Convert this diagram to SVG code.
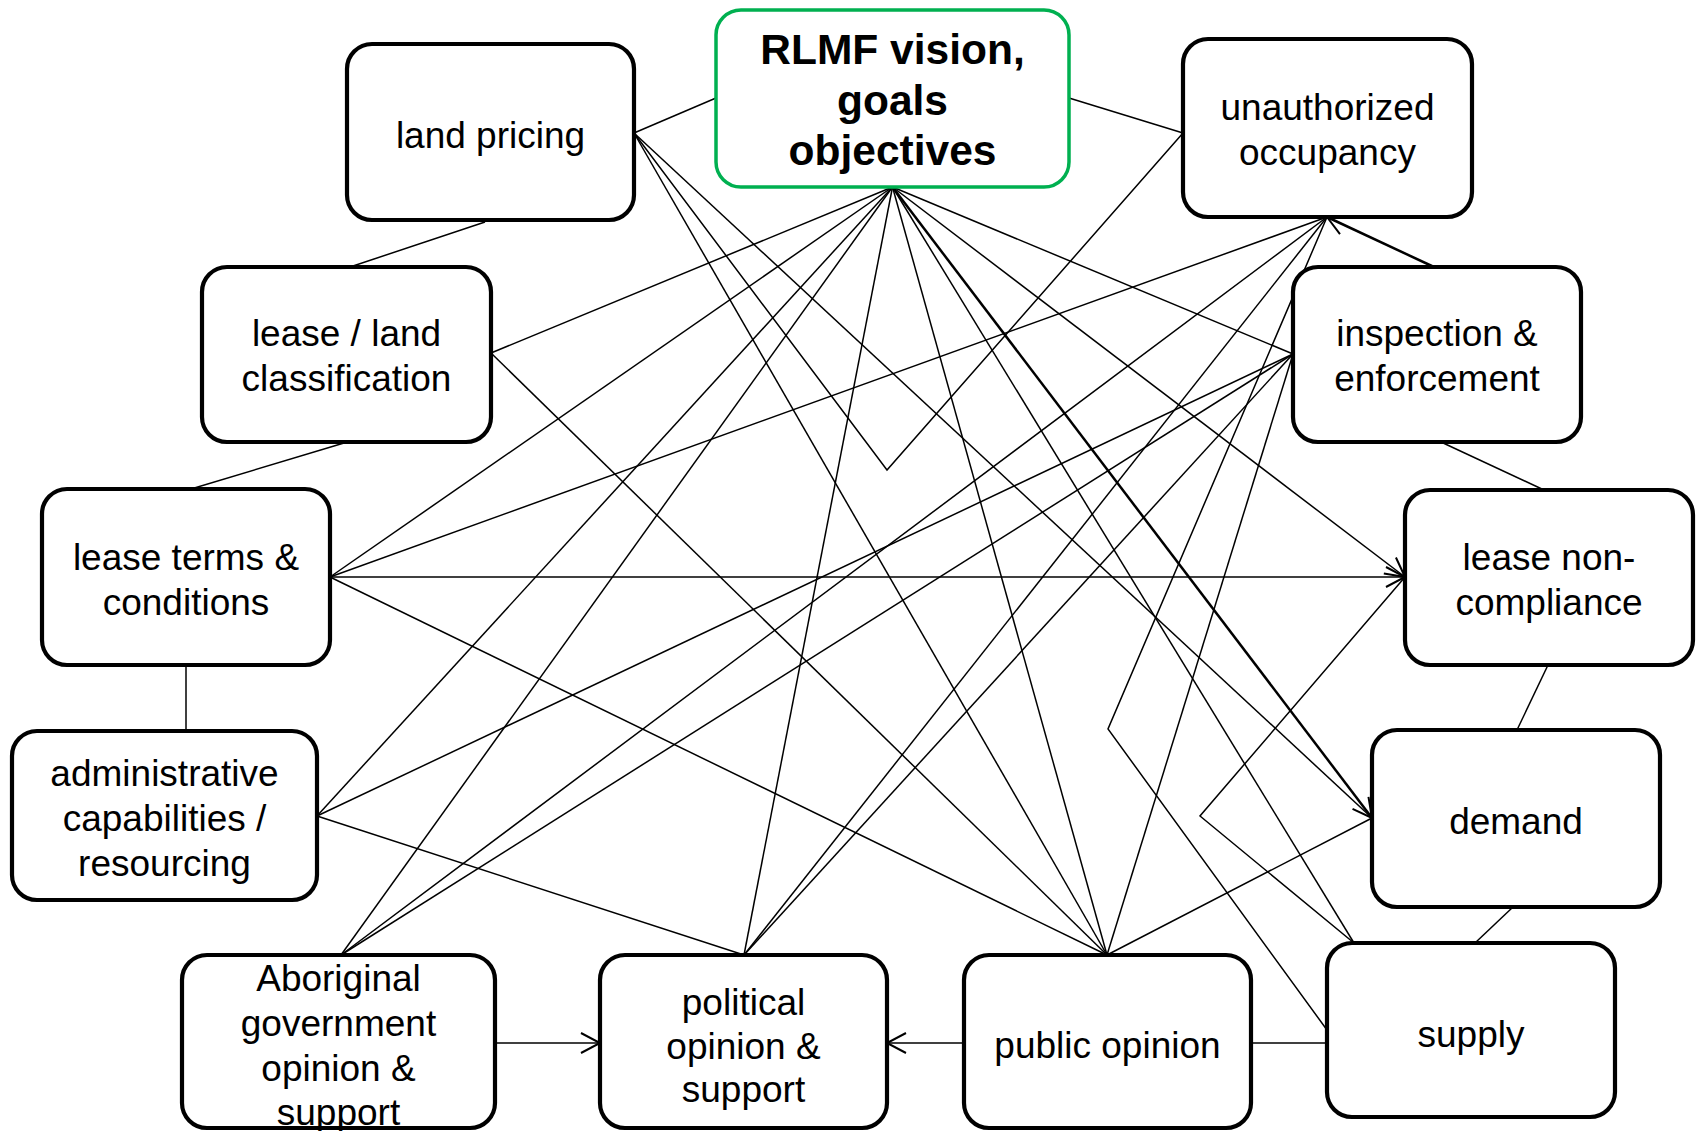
<svg xmlns="http://www.w3.org/2000/svg" width="1700" height="1131" viewBox="0 0 1700 1131">
<defs>
<style>
.box{fill:#fff;stroke:#000;stroke-width:4.2}
.vision{fill:#fff;stroke:#00B050;stroke-width:3.5}
.t{font-family:"Liberation Sans",Arial,sans-serif;font-size:37px;fill:#000;text-anchor:middle}
.b{font-family:"Liberation Sans",Arial,sans-serif;font-size:42.5px;font-weight:bold;fill:#000;text-anchor:middle}
.c line,.c polyline{stroke:#000;stroke-width:1.5;fill:none}
.c .thick{stroke-width:2.5}
</style>
<marker id="arr" markerUnits="userSpaceOnUse" markerWidth="40" markerHeight="40" viewBox="-30 -20 40 40" refX="0" refY="0" orient="auto" overflow="visible">
<path d="M-19,-10 L0,0 L-19,10" fill="none" stroke="#000" stroke-width="2"/>
</marker>
</defs>
<rect width="1700" height="1131" fill="#fff"/>
<g id="connectors" class="c">
<line x1="634" y1="133" x2="716" y2="98"/>
<line x1="1069" y1="98" x2="1183" y2="133"/>
<line x1="485" y1="222" x2="350" y2="267"/>
<line x1="344" y1="443" x2="191" y2="489"/>
<line x1="186" y1="665" x2="186" y2="731"/>
<line class="thick" x1="1434" y1="267" x2="1327" y2="217" marker-end="url(#arr)"/>
<line x1="1441" y1="442" x2="1544" y2="490"/>
<line x1="1548" y1="665" x2="1517" y2="730"/>
<line x1="1513" y1="907" x2="1475" y2="943"/>
<line x1="1251" y1="1043" x2="1327" y2="1043"/>
<line x1="964" y1="1043" x2="887" y2="1043" marker-end="url(#arr)"/>
<line x1="495" y1="1043" x2="600" y2="1043" marker-end="url(#arr)"/>
<line x1="634" y1="133" x2="1372" y2="818"/>
<polyline points="634,133 887,470 1183,133"/>
<line x1="634" y1="133" x2="1107" y2="955"/>
<line x1="491" y1="353" x2="892.5" y2="187"/>
<line x1="491" y1="353" x2="1107" y2="955"/>
<line x1="330" y1="577" x2="892.5" y2="187"/>
<line x1="330" y1="577" x2="1327" y2="217"/>
<line x1="330" y1="577" x2="1405" y2="577" marker-end="url(#arr)"/>
<line x1="330" y1="577" x2="1107" y2="955"/>
<line x1="317" y1="816" x2="892.5" y2="187"/>
<line x1="317" y1="816" x2="1293" y2="354"/>
<line x1="317" y1="816" x2="744" y2="955"/>
<line x1="341" y1="955" x2="892.5" y2="187"/>
<line x1="341" y1="955" x2="1327" y2="217"/>
<line x1="341" y1="955" x2="1293" y2="354"/>
<line x1="744" y1="955" x2="892.5" y2="187"/>
<line x1="744" y1="955" x2="1327" y2="217"/>
<line x1="744" y1="955" x2="1293" y2="354"/>
<line x1="1107" y1="955" x2="892.5" y2="187"/>
<line x1="1107" y1="955" x2="1293" y2="354"/>
<line x1="1107" y1="955" x2="1372" y2="818"/>
<line x1="892.5" y1="187" x2="1354" y2="943"/>
<line class="thick" x1="892.5" y1="187" x2="1372" y2="818" marker-end="url(#arr)"/>
<line x1="892.5" y1="187" x2="1405" y2="577" marker-end="url(#arr)"/>
<line x1="892.5" y1="187" x2="1293" y2="354"/>
<polyline points="1327,1030 1108,729 1327,217"/>
<polyline points="1405,577 1200,816 1354,943"/>
</g>
<g id="n-vision"><rect class="vision" x="716" y="10" width="353" height="177" rx="25"/>
<text class="b"><tspan x="892.5" y="64">RLMF vision,</tspan><tspan x="892.5" y="115">goals</tspan><tspan x="892.5" y="165">objectives</tspan></text></g>
<g id="n-land-pricing"><rect class="box" x="347" y="44" width="287" height="176" rx="25"/>
<text class="t" x="490.5" y="148">land pricing</text></g>
<g id="n-unauthorized"><rect class="box" x="1183" y="39" width="289" height="178" rx="25"/>
<text class="t"><tspan x="1327.5" y="120">unauthorized</tspan><tspan x="1327.5" y="165">occupancy</tspan></text></g>
<g id="n-lease-land"><rect class="box" x="202" y="267" width="289" height="175" rx="25"/>
<text class="t"><tspan x="346.5" y="346">lease / land</tspan><tspan x="346.5" y="391">classification</tspan></text></g>
<g id="n-inspection"><rect class="box" x="1293" y="267" width="288" height="175" rx="25"/>
<text class="t"><tspan x="1437" y="346">inspection &amp;</tspan><tspan x="1437" y="391">enforcement</tspan></text></g>
<g id="n-lease-terms"><rect class="box" x="42" y="489" width="288" height="176" rx="25"/>
<text class="t"><tspan x="186" y="570">lease terms &amp;</tspan><tspan x="186" y="615">conditions</tspan></text></g>
<g id="n-noncompliance"><rect class="box" x="1405" y="490" width="288" height="175" rx="25"/>
<text class="t"><tspan x="1549" y="570">lease non-</tspan><tspan x="1549" y="615">compliance</tspan></text></g>
<g id="n-admin"><rect class="box" x="12" y="731" width="305" height="169" rx="25"/>
<text class="t"><tspan x="164.5" y="786">administrative</tspan><tspan x="164.5" y="831">capabilities /</tspan><tspan x="164.5" y="876">resourcing</tspan></text></g>
<g id="n-demand"><rect class="box" x="1372" y="730" width="288" height="177" rx="25"/>
<text class="t" x="1516" y="834">demand</text></g>
<g id="n-aboriginal"><rect class="box" x="182" y="955" width="313" height="173" rx="25"/>
<text class="t"><tspan x="338.5" y="991">Aboriginal</tspan><tspan x="338.5" y="1036">government</tspan><tspan x="338.5" y="1081">opinion &amp;</tspan><tspan x="338.5" y="1125">support</tspan></text></g>
<g id="n-political"><rect class="box" x="600" y="955" width="287" height="173" rx="25"/>
<text class="t"><tspan x="743.5" y="1015">political</tspan><tspan x="743.5" y="1059">opinion &amp;</tspan><tspan x="743.5" y="1102">support</tspan></text></g>
<g id="n-public"><rect class="box" x="964" y="955" width="287" height="173" rx="25"/>
<text class="t" x="1107.5" y="1058">public opinion</text></g>
<g id="n-supply"><rect class="box" x="1327" y="943" width="288" height="174" rx="25"/>
<text class="t" x="1471" y="1047">supply</text></g>
</svg>
